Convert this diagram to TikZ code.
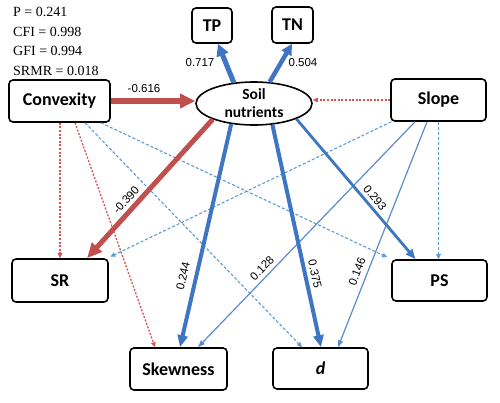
\documentclass[tikz,border=0pt]{standalone}
\usepackage{fontspec}
\setmainfont{Liberation Serif}
\newfontfamily\boxfont{Carlito}
\newfontfamily\labfont{Liberation Sans}
\usetikzlibrary{arrows.meta,shapes.geometric}
\definecolor{sred}{HTML}{C0504D}
\definecolor{sblue}{HTML}{3F76C4}
\definecolor{lblue}{HTML}{5B9BD5}
\definecolor{lred}{HTML}{D9534F}
\begin{document}
\begin{tikzpicture}[x=1pt,y=-1pt,
  box/.style={draw=black, line width=1.6pt, rounded corners=4pt, inner sep=0pt,
    font=\boxfont\bfseries\fontsize{18}{20}\selectfont},
  lat/.style={draw=black, line width=1.6pt, ellipse, inner sep=0pt, align=center,
    minimum width=116pt, minimum height=43pt,
    font=\boxfont\bfseries\fontsize{15.5}{18}\selectfont},
  coef/.style={inner sep=0pt, font=\labfont\fontsize{11.5}{13}\selectfont},
  stat/.style={inner sep=0pt, anchor=base west, font=\fontsize{14}{16}\selectfont},
  thickred/.style={draw=sred, line width=#1},
  thickblue/.style={draw=sblue, line width=#1},
  thinblue/.style={draw=sblue!85!white, line width=1.2pt, -{Triangle[length=7pt,width=5pt]}},
  dashblue/.style={draw=lblue, line width=1.1pt, dash pattern=on 3pt off 2pt, -{Triangle[length=5pt,width=4.5pt]}},
  dotred/.style={draw=lred, line width=1.3pt, dash pattern=on 2pt off 1.6pt, -{Triangle[length=5pt,width=4.5pt]}},
]
\useasboundingbox (0,0) rectangle (500,402);

% fit statistics
\node[stat] (sp) at (13,16.5) {P = 0.241};
\node[stat] (sc) at (13,36) {CFI = 0.998};
\node[stat] (sg) at (13,55.5) {GFI = 0.994};
\node[stat] (ss) at (13,75) {SRMR = 0.018};

% nodes
\node[box, minimum width=40pt, minimum height=35pt] (tp) at (212,25.5) {TP};
\node[box, minimum width=41pt, minimum height=36pt] (tn) at (292.5,25) {TN};
\node[box, minimum width=101pt, minimum height=42pt] (conv) at (59.5,101) {Convexity};
\node[box, minimum width=95pt, minimum height=42pt] (slope) at (438.5,100) {Slope};
\node[lat] (soil) at (254,103.5) {Soil\\nutrients};
\node[box, minimum width=96pt, minimum height=43pt] (sr) at (60,280.5) {SR};
\node[box, minimum width=95pt, minimum height=41pt] (ps) at (439.5,280.5) {PS};
\node[box, minimum width=97pt, minimum height=42pt] (skew) at (178.5,369) {Skewness};
\node[box, minimum width=95pt, minimum height=41pt] (dd) at (320.5,368.5) {\itshape d};

% dashed / dotted (non significant) paths
\draw[dotred] (slope.west) -- (slope.west -| soil.east);
\draw[dotred] ([xshift=0.5pt]conv.south) -- ([xshift=0.5pt]conv.south |- sr.north);
\draw[dotred] ([xshift=15.5pt]conv.south) -- ([xshift=-23.5pt]skew.north);
\draw[dashblue] ([xshift=25.5pt]conv.south) -- ([xshift=-18.5pt]dd.north);
\draw[dashblue] ([xshift=-10pt]conv.south east) -- ([xshift=-4pt,yshift=2pt]ps.north west);
\draw[dashblue] ([xshift=1pt]slope.south west) -- ([xshift=1.5pt,yshift=1.5pt]sr.north east);
\draw[dashblue] (slope.south) -- (slope.south |- ps.north);

% thin significant paths
\draw[thinblue] ([xshift=-23.5pt]slope.south) -- ([xshift=19.5pt]skew.north);
\draw[thinblue] ([xshift=-11.5pt]slope.south) -- ([xshift=17.5pt]dd.north);

% thick significant paths
\draw[thickred=6pt, -{Triangle[length=15pt,width=14pt]}] (conv.east) -- (conv.east -| soil.west);
\draw[thickred=5pt, -{Triangle[length=15pt,width=13pt]}] (soil.201) -- ([xshift=27pt]sr.north);
\draw[thickblue=5pt, -{Triangle[length=12pt,width=12pt]}] (soil.134) -- ([xshift=6pt]tp.south);
\draw[thickblue=4.5pt, -{Triangle[length=11pt,width=11pt]}] (soil.54) -- ([xshift=-0.5pt]tn.south);
\draw[thickblue=4pt, -{Triangle[length=12pt,width=10pt]}] (soil.222) -- ([xshift=1.5pt]skew.north);
\draw[thickblue=4pt, -{Triangle[length=12pt,width=10pt]}] (soil.311) -- ([xshift=0.5pt]dd.north);
\draw[thickblue=2.8pt, -{Triangle[length=10pt,width=8pt]}] (soil.340) -- ([xshift=-24pt]ps.north);

% coefficients
\node[coef] (c616) at (144,89) {-0.616};
\node[coef] (c717) at (200,63) {0.717};
\node[coef] (c504) at (303,63) {0.504};
\node[coef, rotate=48] (c390) at (126,200) {-0.390};
\node[coef, rotate=77] (c244) at (183,276) {0.244};
\node[coef, rotate=46] (c128) at (262,268) {0.128};
\node[coef, rotate=-78] (c375) at (315,274) {0.375};
\node[coef, rotate=69] (c146) at (357,272) {0.146};
\node[coef, rotate=-50] (c293) at (375,198) {0.293};
\end{tikzpicture}
\end{document}
